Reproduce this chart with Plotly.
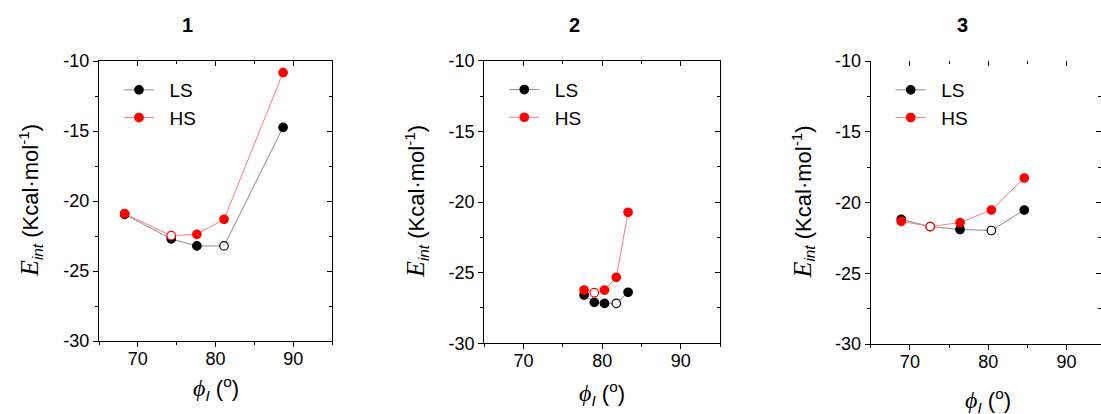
import plotly.graph_objects as go

W, H = 1101, 414

# ---------------- data ----------------
panel_titles = ["1", "2", "3"]

p1_ls_x = [68.3, 74.3, 77.6, 81.1, 88.7]
p1_ls_y = [-20.95, -22.71, -23.21, -23.21, -14.74]
p1_hs_x = [68.3, 74.3, 77.6, 81.1, 88.7]
p1_hs_y = [-20.9, -22.48, -22.38, -21.31, -10.83]
p1_ls_open = [False, False, False, True, False]
p1_hs_open = [False, True, False, False, False]

p2_ls_x = [77.7, 79.0, 80.3, 81.8, 83.3]
p2_ls_y = [-26.58, -27.10, -27.17, -27.17, -26.39]
p2_hs_x = [77.7, 79.0, 80.3, 81.8, 83.3]
p2_hs_y = [-26.23, -26.42, -26.23, -25.33, -20.73]
p2_ls_open = [False, False, False, True, False]
p2_hs_open = [False, True, False, False, False]

p3_ls_x = [68.9, 72.6, 76.4, 80.4, 84.6]
p3_ls_y = [-21.19, -21.70, -21.91, -21.98, -20.53]
p3_hs_x = [68.9, 72.6, 76.4, 80.4, 84.6]
p3_hs_y = [-21.33, -21.70, -21.42, -20.53, -18.27]
p3_ls_open = [False, True, False, True, False]
p3_hs_open = [False, True, False, False, False]

series_names = ["LS", "HS"]

x_tick_vals = [70, 80, 90]
x_tick_text = ["70", "80", "90"]
y_tick_vals = [-30, -25, -20, -15, -10]
y_tick_text = ["-30", "-25", "-20", "-15", "-10"]

panels = [
    (p1_ls_x, p1_ls_y, p1_ls_open, p1_hs_x, p1_hs_y, p1_hs_open),
    (p2_ls_x, p2_ls_y, p2_ls_open, p2_hs_x, p2_hs_y, p2_hs_open),
    (p3_ls_x, p3_ls_y, p3_ls_open, p3_hs_x, p3_hs_y, p3_hs_open),
]

x_range_full = [65, 95]
y_range = [-30, -10]

# ---------------- layout geometry (pixels) ----------------
boxes = [
    (99, 332, 61, 341),
    (484.3, 720, 60.7, 343.3),
    (870.7, 1105.8, 61, 344),
]
title_pos = [(187, 25), (574, 25), (962, 25)]
ytitle_x = [30, 417, 803]
xtitle_y = [388, 393, 400]

LS_LINE = "#8c8c8c"
LS_MARK = "#000000"
HS_LINE = "#ff7a7a"
HS_MARK = "#ff0000"
AXFONT = dict(family="Liberation Sans, Arial", size=18, color="black")
NB = "\u00a0"

fig = go.Figure()
annotations = []

for i, (lx, ly, lo, hx, hy, ho) in enumerate(panels):
    n = i + 1
    xa = "x" if n == 1 else f"x{n}"
    ya = "y" if n == 1 else f"y{n}"
    leg = "legend" if n == 1 else f"legend{n}"
    for name, xs, ys, opn, lc, mc in [
        (series_names[0], lx, ly, lo, LS_LINE, LS_MARK),
        (series_names[1], hx, hy, ho, HS_LINE, HS_MARK),
    ]:
        fig.add_trace(go.Scatter(
            x=xs, y=ys, mode="lines+markers", name=NB * 2 + name,
            xaxis=xa, yaxis=ya, legend=leg,
            line=dict(color=lc, width=1),
            marker=dict(size=8.5, symbol="circle",
                        color=["white" if o else mc for o in opn],
                        line=dict(color=mc, width=1.2)),
        ))
    fig.add_trace(go.Scatter(x=[None], y=[None], xaxis=f"x{n+3}", yaxis=f"y{n+3}",
                             showlegend=False, hoverinfo="skip"))

    L, R, T, B = boxes[i]
    x0 = L / W
    x1 = min(R / W, 1.0)
    if R > W:
        xr = [x_range_full[0], x_range_full[0] + (x_range_full[1] - x_range_full[0]) * (W - L) / (R - L)]
    else:
        xr = x_range_full
    yd = [(H - B) / H, (H - T) / H]

    common_x = dict(range=xr, tickmode="array", tickvals=x_tick_vals, ticktext=x_tick_text,
                    showgrid=False, zeroline=False, automargin=False)
    common_y = dict(range=y_range, tickmode="array", tickvals=y_tick_vals, ticktext=y_tick_text,
                    showgrid=False, zeroline=False, automargin=False)

    fig.layout[("xaxis" if n == 1 else f"xaxis{n}")] = dict(
        domain=[x0, x1], anchor=ya, **common_x,
        showline=True, linecolor="black", linewidth=1.3, mirror=(R <= W),
        ticks="outside", ticklen=5, tickwidth=1.2, tickcolor="black",
        minor=dict(tickmode="linear", tick0=0, dtick=5, ticks="outside", ticklen=3, tickwidth=1, tickcolor="black"),
        tickfont=AXFONT, ticklabelstandoff=-4,
    )
    fig.layout[("yaxis" if n == 1 else f"yaxis{n}")] = dict(
        domain=yd, anchor=xa, **common_y,
        showline=True, linecolor="black", linewidth=1.3, mirror=True,
        ticks="outside", ticklen=5, tickwidth=1.2, tickcolor="black",
        minor=dict(tickmode="linear", tick0=0, dtick=2.5, ticks="outside", ticklen=3, tickwidth=1, tickcolor="black"),
        tickfont=AXFONT,
    )
    fig.layout[f"xaxis{n+3}"] = dict(
        domain=[x0, x1], overlaying=xa, side="top", anchor=ya, **common_x,
        showline=False, showticklabels=False,
        ticks="inside", ticklen=5, tickwidth=1.2, tickcolor="black",
        minor=dict(tickmode="linear", tick0=0, dtick=5, ticks="inside", ticklen=3, tickwidth=1, tickcolor="black"),
    )
    fig.layout[f"yaxis{n+3}"] = dict(
        domain=yd, overlaying=ya, side="right", anchor=xa, **common_y,
        showline=False, showticklabels=False,
        ticks="inside", ticklen=5, tickwidth=1.2, tickcolor="black",
        minor=dict(tickmode="linear", tick0=0, dtick=2.5, ticks="inside", ticklen=3, tickwidth=1, tickcolor="black"),
    )

    fig.layout[leg] = dict(
        x=(L + 20) / W, y=(H - T - 10) / H, xanchor="left", yanchor="top",
        bgcolor="rgba(0,0,0,0)", borderwidth=0,
        font=dict(family="Liberation Sans, Arial", size=19, color="black"),
        tracegroupgap=0,
    )

    tx, ty = title_pos[i]
    annotations.append(dict(
        text=f"<b>{panel_titles[i]}</b>", x=tx / W, y=(H - ty) / H, xref="paper", yref="paper",
        showarrow=False, xanchor="center", yanchor="middle",
        font=dict(family="Liberation Sans, Arial", size=20, color="black"),
    ))
    annotations.append(dict(
        text=('<span style="font-family:\'Liberation Serif\';font-size:26px"><i>E</i></span>'
              '<sub><i>int</i></sub> (Kcal·mol<sup>-1</sup>)'),
        x=ytitle_x[i] / W, y=(H - (T + B) / 2) / H, xref="paper", yref="paper",
        showarrow=False, xanchor="center", yanchor="middle", textangle=-90,
        font=dict(family="Liberation Sans, Arial", size=22, color="black"),
    ))
    annotations.append(dict(
        text=('<span style="font-family:\'Liberation Serif\';font-size:24px"><i>ϕ</i></span>'
              '<sub><i>I</i></sub> (<sup>o</sup>)'),
        x=((L + R) / 2) / W, y=(H - xtitle_y[i]) / H, xref="paper", yref="paper",
        showarrow=False, xanchor="center", yanchor="middle",
        font=dict(family="Liberation Sans, Arial", size=22, color="black"),
    ))

fig.update_layout(
    width=W, height=H, margin=dict(l=0, r=0, t=0, b=0, pad=0, autoexpand=False),
    paper_bgcolor="white", plot_bgcolor="white",
    annotations=annotations, showlegend=True,
)

page_fix = "document.body.style.margin='0'; document.body.style.padding='0'; document.body.style.overflow='hidden';"
fig.write_html("out.html", post_script=page_fix, config={"displayModeBar": False})
